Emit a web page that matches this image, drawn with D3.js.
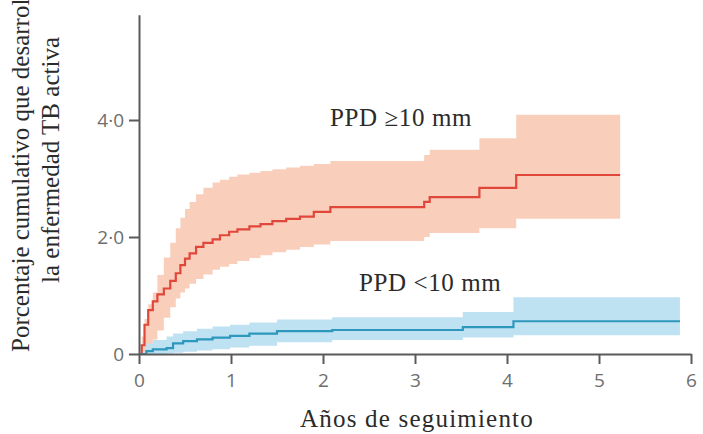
<!DOCTYPE html>
<html>
<head>
<meta charset="utf-8">
<script src="https://cdn.jsdelivr.net/npm/d3@7"></script>
<style>
	body { margin: 0; background: #fff; }
	.tick text { font-family: "Open Sans", sans-serif; font-size: 19px; fill: #6e6e6e; }
	.serif { font-family: "Liberation Serif", serif; font-size: 25px; fill: #2b2b2b; }
</style>
</head>
<body>
<div id="chart"></div>
<script>
///////////////////////////////////////////////////////////////////////////
//////////////////////////// data /////////////////////////////////////////
///////////////////////////////////////////////////////////////////////////

// PPD >= 10 mm : step times (years), estimate and 95% band (%)
const redTime = [0, 0.03, 0.06, 0.1, 0.15, 0.2, 0.27, 0.34, 0.4, 0.45, 0.5, 0.55, 0.62, 0.7, 0.8, 0.88, 0.98, 1.07, 1.2, 1.32, 1.45, 1.6, 1.75, 1.9, 2.08, 3.1, 3.16, 3.7, 4.1, 5.23];
const redEst = [0, 0.15, 0.5, 0.75, 0.9, 1.02, 1.12, 1.25, 1.38, 1.52, 1.63, 1.72, 1.83, 1.9, 1.96, 2.03, 2.09, 2.13, 2.18, 2.22, 2.27, 2.31, 2.35, 2.43, 2.51, 2.6, 2.68, 2.84, 3.06, 3.06];
const redLow = [0, 0, 0.02, 0.1, 0.25, 0.4, 0.62, 0.8, 0.95, 1.05, 1.12, 1.2, 1.28, 1.36, 1.44, 1.49, 1.54, 1.59, 1.64, 1.69, 1.74, 1.78, 1.83, 1.87, 1.93, 2.0, 2.07, 2.15, 2.31, 2.31];
const redHigh = [0, 0.3, 0.6, 0.85, 1.05, 1.35, 1.65, 1.9, 2.15, 2.33, 2.48, 2.6, 2.73, 2.84, 2.93, 2.98, 3.03, 3.07, 3.1, 3.13, 3.16, 3.19, 3.22, 3.25, 3.3, 3.4, 3.49, 3.69, 4.09, 4.09];

// PPD < 10 mm
const blueTime = [0, 0.08, 0.15, 0.3, 0.37, 0.48, 0.63, 0.8, 0.99, 1.2, 1.5, 2.1, 3.52, 4.07, 5.88];
const blueEst = [0, 0.05, 0.08, 0.1, 0.18, 0.22, 0.25, 0.28, 0.31, 0.35, 0.39, 0.41, 0.46, 0.56, 0.56];
const blueLow = [0, 0, 0, 0.01, 0.02, 0.04, 0.06, 0.08, 0.11, 0.14, 0.2, 0.24, 0.28, 0.32, 0.32];
const blueHigh = [0, 0.18, 0.24, 0.3, 0.35, 0.39, 0.43, 0.47, 0.5, 0.54, 0.59, 0.63, 0.72, 0.97, 0.97];

const xTicks = [0, 1, 2, 3, 4, 5, 6];
const yTicks = [0, 2, 4];

///////////////////////////////////////////////////////////////////////////
//////////////////////////// svg //////////////////////////////////////////
///////////////////////////////////////////////////////////////////////////

var width = 703,
	height = 434;

const svg = d3.select("#chart")
	.append("svg")
	.attr("width", width)
	.attr("height", height);

var x = d3.scaleLinear().domain([0, 6]).range([139, 691]);
var y = d3.scaleLinear().domain([0, 5.8]).range([354, 14.7]);

function rows(t, est, lo, hi) {
	return t.map((d, i) => ({ t: d, est: est[i], lo: lo[i], hi: hi[i] }));
}

const red = rows(redTime, redEst, redLow, redHigh);
const blue = rows(blueTime, blueEst, blueLow, blueHigh);

var band = d3.area()
	.curve(d3.curveStepAfter)
	.x((d) => x(d.t))
	.y0((d) => y(d.lo))
	.y1((d) => y(d.hi));

var line = d3.line()
	.curve(d3.curveStepAfter)
	.x((d) => x(d.t))
	.y((d) => y(d.est));

///////////////////////////////////////////////////////////////////////////
//////////////////////////// plot /////////////////////////////////////////
///////////////////////////////////////////////////////////////////////////

svg.append("path").datum(red).attr("d", band).attr("fill", "#f9cfbc");
svg.append("path").datum(blue).attr("d", band).attr("fill", "#bfe2f2");

svg.append("path").datum(red).attr("d", line)
	.attr("fill", "none").attr("stroke", "#e0473a").attr("stroke-width", 2.2);
svg.append("path").datum(blue).attr("d", line)
	.attr("fill", "none").attr("stroke", "#2e97bd").attr("stroke-width", 2.2);

// axes
var fmt = (d) => (d === 0 ? "0" : d3.format(".1f")(d).replace(".", "·"));

const gx = svg.append("g")
	.attr("transform", "translate(0," + y(0) + ")")
	.call(d3.axisBottom(x).tickValues(xTicks).tickFormat(d3.format("d")).tickSize(10).tickSizeOuter(0).tickPadding(10));

const gy = svg.append("g")
	.attr("transform", "translate(" + x(0) + ",0)")
	.call(d3.axisLeft(y).tickValues(yTicks).tickFormat(fmt).tickSize(10).tickSizeOuter(0).tickPadding(5));

svg.selectAll(".domain, .tick line")
	.attr("stroke", "#5a5a5a")
	.attr("stroke-width", 2);

// labels
svg.append("text")
	.attr("class", "serif")
	.attr("x", 330)
	.attr("y", 126)
	.attr("letter-spacing", 0.6)
	.text("PPD ≥10 mm");

svg.append("text")
	.attr("class", "serif")
	.attr("x", 359)
	.attr("y", 291)
	.attr("letter-spacing", 0.6)
	.text("PPD <10 mm");

svg.append("text")
	.attr("class", "serif")
	.attr("x", 417)
	.attr("y", 427)
	.attr("text-anchor", "middle")
	.attr("letter-spacing", 1.2)
	.text("Años de seguimiento");

// first line runs past the top edge, as in the source figure
svg.append("text")
	.attr("class", "serif")
	.attr("transform", "translate(29,352) rotate(-90)")
	.text("Porcentaje cumulativo que desarrollaron");

svg.append("text")
	.attr("class", "serif")
	.attr("transform", "translate(59,160) rotate(-90)")
	.attr("text-anchor", "middle")
	.text("la enfermedad TB activa");
</script>
</body>
</html>
